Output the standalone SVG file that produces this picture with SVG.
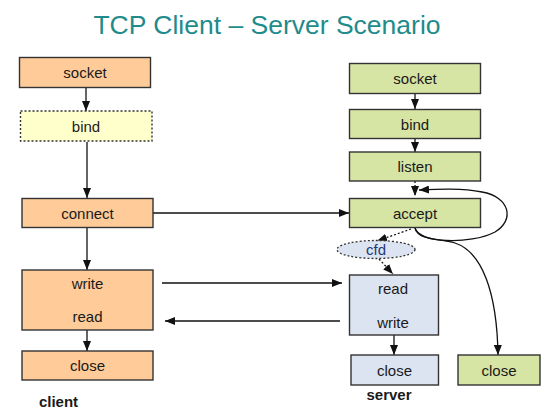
<svg xmlns="http://www.w3.org/2000/svg" width="547" height="415" viewBox="0 0 547 415">
<style>
  text { font-family: "Liberation Sans", Arial, sans-serif; fill: #1a1a1a; }
  .lbl { font-size: 15px; text-anchor: middle; dominant-baseline: central; }
  .box { stroke: #333; stroke-width: 1.4; }
  .orange { fill: #ffcc99; }
  .yellow { fill: #ffffcc; stroke-dasharray: 2 2; }
  .green { fill: #d6e4a4; }
  .blue { fill: #dde4f1; }
  .ln { fill: none; stroke: #111; stroke-width: 1.3; }
  .dot { stroke-dasharray: 2 2; }
  .title { font-size: 26.5px; fill: #1f8b8b; text-anchor: middle; }
  .cap { font-size: 15px; font-weight: bold; text-anchor: middle; }
</style>
<defs>
  <marker id="ah" viewBox="0 0 10 8" refX="10" refY="4" markerWidth="10" markerHeight="8" markerUnits="userSpaceOnUse" orient="auto">
    <path d="M0,0 L10,4 L0,8 z" fill="#111"/>
  </marker>
</defs>
<rect width="547" height="415" fill="#ffffff"/>
<text class="title" x="267" y="34">TCP Client – Server Scenario</text>

<g id="connectors">
  <line class="ln" x1="86" y1="88" x2="86" y2="111" marker-end="url(#ah)"/>
  <line class="ln" x1="87" y1="142" x2="87" y2="198" marker-end="url(#ah)"/>
  <line class="ln" x1="87" y1="228" x2="87" y2="270" marker-end="url(#ah)"/>
  <line class="ln" x1="87" y1="330" x2="87" y2="351" marker-end="url(#ah)"/>
  <line class="ln" x1="153" y1="213" x2="349" y2="213" marker-end="url(#ah)"/>
  <line class="ln" x1="162" y1="283" x2="342" y2="283" marker-end="url(#ah)"/>
  <line class="ln" x1="340" y1="321" x2="165" y2="321" marker-end="url(#ah)"/>
  <line class="ln" x1="415" y1="94" x2="415" y2="109" marker-end="url(#ah)"/>
  <line class="ln" x1="415" y1="139" x2="415" y2="152" marker-end="url(#ah)"/>
  <line class="ln dot" x1="415" y1="181" x2="415" y2="196" marker-end="url(#ah)"/>
  <path class="ln" d="M415,228 C418,243 470,245 495,232 C515,220 510,197 482,192 C462,188 440,189 419,190" marker-end="url(#ah)"/>
  <path class="ln" d="M415,228 C419,241 438,238 455,243 C482,252 497,292 498,355" marker-end="url(#ah)"/>
  <line class="ln dot" x1="411" y1="229" x2="377" y2="241" marker-end="url(#ah)"/>
  <line class="ln dot" x1="379" y1="259" x2="393" y2="274" marker-end="url(#ah)"/>
  <line class="ln" x1="394" y1="335" x2="394" y2="355" marker-end="url(#ah)"/>
</g>

<g id="c-socket"><rect class="box orange" x="19.5" y="57.5" width="131" height="30"/><text class="lbl" x="85" y="72.5">socket</text></g>
<g id="c-bind"><rect class="box yellow" x="20.5" y="111" width="131.5" height="30"/><text class="lbl" x="86" y="126">bind</text></g>
<g id="c-connect"><rect class="box orange" x="22" y="198.5" width="131" height="29"/><text class="lbl" x="87.5" y="213">connect</text></g>
<g id="c-writeread"><rect class="box orange" x="22" y="270" width="131" height="60"/><text class="lbl" x="87.5" y="283">write</text><text class="lbl" x="87.5" y="316.5">read</text></g>
<g id="c-close"><rect class="box orange" x="22" y="351" width="131" height="29"/><text class="lbl" x="87.5" y="365">close</text></g>
<text class="cap" x="58.5" y="407">client</text>

<g id="s-socket"><rect class="box green" x="349.5" y="63.5" width="131" height="30"/><text class="lbl" x="415" y="78.5">socket</text></g>
<g id="s-bind"><rect class="box green" x="349.5" y="109.5" width="131" height="29"/><text class="lbl" x="415" y="124">bind</text></g>
<g id="s-listen"><rect class="box green" x="349.5" y="152" width="131" height="29"/><text class="lbl" x="415" y="166.5">listen</text></g>
<g id="s-accept"><rect class="box green" x="349.5" y="198.5" width="131" height="29"/><text class="lbl" x="415" y="213">accept</text></g>
<g id="s-cfd"><ellipse cx="376" cy="249.5" rx="39" ry="9" fill="#dde4f1" stroke="#333" stroke-width="1.3" stroke-dasharray="2 2"/><text class="lbl" x="376" y="249.5" style="fill:#1c3a78">cfd</text></g>
<g id="s-readwrite"><rect class="box blue" x="349.5" y="275" width="89" height="60"/><text class="lbl" x="393" y="288">read</text><text class="lbl" x="393" y="322">write</text></g>
<g id="s-close"><rect class="box blue" x="351" y="355" width="87.5" height="30"/><text class="lbl" x="394.5" y="370">close</text></g>
<g id="s-close2"><rect class="box green" x="458" y="355" width="82" height="30"/><text class="lbl" x="499" y="370">close</text></g>
<text class="cap" x="389" y="400">server</text>
</svg>
